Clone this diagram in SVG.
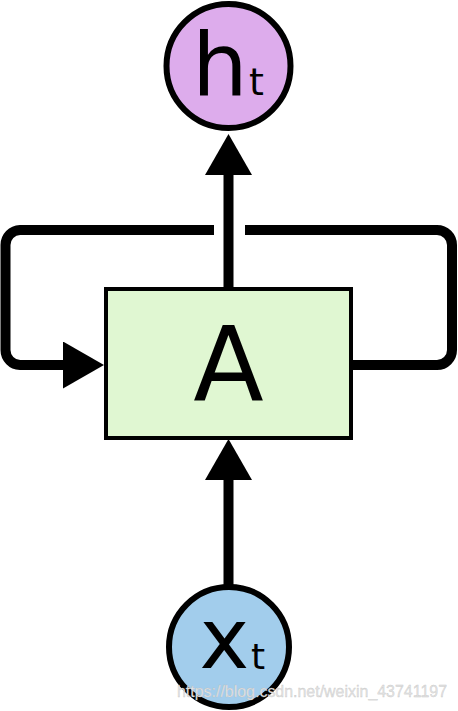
<svg xmlns="http://www.w3.org/2000/svg" width="458" height="711" viewBox="0 0 458 711">
  <style>
    .edge { fill: none; stroke: #000; stroke-width: 10; }
    .circ { stroke: #000; stroke-width: 6; }
    .lbl { font-family: "DejaVu Sans", sans-serif; fill: #000; }
    .wm { font-family: "Liberation Sans", Arial, sans-serif; font-size: 16px; fill: #e4e4e4; stroke: #b4b4b4; stroke-width: 0.35; stroke-opacity: 0.7; }
  </style>
  <defs>
    <marker id="arrow" markerUnits="userSpaceOnUse" markerWidth="41" markerHeight="47" refX="0" refY="23.5" orient="auto" viewBox="0 0 41 47">
      <path d="M0,0 L41,23.5 L0,47 Z" fill="#000"/>
    </marker>
  </defs>
  <rect width="458" height="711" fill="#fff"/>
  <g id="connectors">
    <path class="edge" d="M214,230 H20 A15,15 0 0 0 5.5,245 V350 A15,15 0 0 0 20,365 H63" marker-end="url(#arrow)"/>
    <path class="edge" d="M352,365 H437 A15,15 0 0 0 452,350 V245 A15,15 0 0 0 437,230 H245"/>
    <path class="edge" d="M228.5,288 V175" marker-end="url(#arrow)"/>
    <path class="edge" d="M228.5,587 V480" marker-end="url(#arrow)"/>
  </g>
  <g id="node-A">
    <rect x="106" y="289" width="245" height="149" fill="#e0f7d2" stroke="#000" stroke-width="4"/>
    <text class="lbl" x="228.5" y="400" font-size="103" text-anchor="middle">A</text>
  </g>
  <g id="node-ht">
    <circle class="circ" cx="228.5" cy="66" r="62" fill="#ddacec"/>
    <text class="lbl" x="192" y="95" font-size="88">h</text>
    <text class="lbl" x="249" y="95" font-size="38">t</text>
  </g>
  <g id="node-xt">
    <circle class="circ" cx="229" cy="647" r="60" fill="#a2cdec"/>
    <text class="lbl" x="199.5" y="668" font-size="84">x</text>
    <text class="lbl" x="251" y="669" font-size="36">t</text>
  </g>
  <text class="wm" x="177" y="697" textLength="270" lengthAdjust="spacingAndGlyphs">https://blog.csdn.net/weixin_43741197</text>
</svg>
